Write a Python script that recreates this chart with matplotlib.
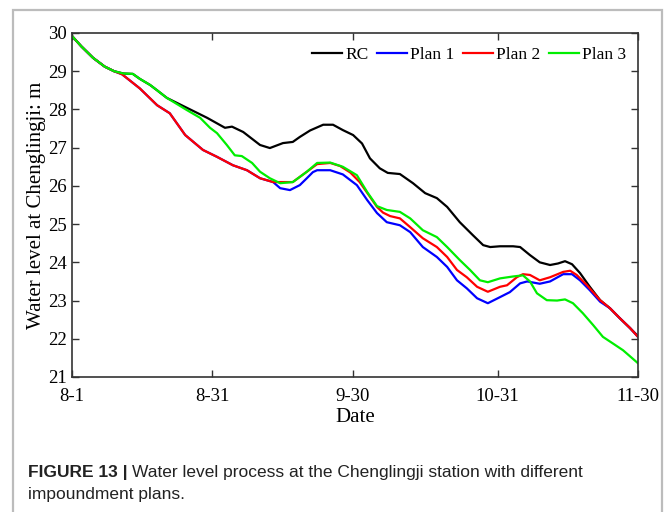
import matplotlib
matplotlib.use("Agg")
import matplotlib.pyplot as plt
from matplotlib.patches import Rectangle

# tick positions (days after 8-1) and labels
tick_days = [0, 30, 60, 91, 121]
tick_labels = ["8-1", "8-31", "9-30", "10-31", "11-30"]

# shared start (all plans equal up to ~day 10)
start_days = [0, 2, 4.5, 7, 9]
start_vals = [29.92, 29.65, 29.35, 29.12, 29.0]

# RC
rc_days = start_days + [11, 13, 14.5, 16.7, 18.2, 20.3, 24.6, 28.9, 32.7, 34.2, 36.6, 40.2, 42.3,
                        45.1, 47.2, 48.7, 50.9, 53.7, 55.8, 57.9, 60.1, 62, 63.7, 65.8, 67.5,
                        70.1, 72.9, 75.5, 78, 80.2, 82.9, 85.7, 87.9, 89.4, 91.5, 94.3, 95.8,
                        97.9, 100, 102.2, 103.9, 105.4, 106.9, 108.6, 110.7, 112.9, 115, 117.1,
                        119.3, 121]
rc_vals = start_vals + [28.94, 28.93, 28.8, 28.64, 28.5, 28.3, 28.04, 27.78, 27.52, 27.55, 27.41,
                        27.07, 26.99, 27.12, 27.15, 27.28, 27.45, 27.6, 27.6, 27.46, 27.33, 27.11,
                        26.72, 26.46, 26.34, 26.31, 26.07, 25.81, 25.68, 25.45, 25.05, 24.71,
                        24.45, 24.4, 24.42, 24.42, 24.4, 24.19, 24.0, 23.93, 23.97, 24.03, 23.95,
                        23.72, 23.36, 23.01, 22.8, 22.54, 22.28, 22.07]

# Plan 1
p1_days = start_days + [10.7, 14.5, 18.2, 20.9, 24.2, 28, 31, 34.4, 37.4, 40.2, 43, 44.5, 46.6,
                        48.7, 50.2, 51.5, 52.4, 55.2, 57.9, 60.9, 63.1, 65.2, 67.3, 70.1, 72.3,
                        75, 78, 80.2, 82.3, 84.4, 86.6, 88.9, 91.5, 93.6, 95.8, 97.3, 100, 102.2,
                        105, 106.9, 108.6, 110.7, 112.9, 115, 117.1, 119.3, 121]
p1_vals = start_vals + [28.92, 28.55, 28.11, 27.9, 27.33, 26.94, 26.76, 26.54, 26.41, 26.2, 26.1,
                        25.94, 25.89, 26.02, 26.2, 26.36, 26.41, 26.41, 26.3, 26.02, 25.63, 25.29,
                        25.05, 24.97, 24.79, 24.4, 24.14, 23.88, 23.53, 23.32, 23.06, 22.93,
                        23.09, 23.22, 23.45, 23.5, 23.44, 23.5, 23.69, 23.69, 23.53, 23.27, 22.97,
                        22.8, 22.54, 22.28, 22.05]

# Plan 2
p2_days = start_days + [10.7, 14.5, 18.2, 20.9, 24.2, 28, 31, 34.4, 37.4, 40.2, 43, 47.2, 50.2,
                        52.4, 55.2, 57.3, 59.5, 61.5, 63.5, 65.2, 66.5, 68, 70.1, 72.3, 75, 78,
                        80.2, 82.3, 84.4, 86.6, 88.9, 91.5, 93, 95.1, 96.4, 97.9, 100, 102.2,
                        105, 106.5, 107.9, 110.1, 112.9, 115, 117.1, 119.3, 121]
p2_vals = start_vals + [28.92, 28.55, 28.11, 27.9, 27.33, 26.94, 26.76, 26.54, 26.41, 26.2, 26.1,
                        26.1, 26.37, 26.57, 26.6, 26.52, 26.35, 26.1, 25.75, 25.45, 25.3, 25.21,
                        25.15, 24.92, 24.63, 24.4, 24.14, 23.8, 23.61, 23.36, 23.23, 23.36,
                        23.4, 23.61, 23.69, 23.67, 23.53, 23.61, 23.75, 23.78, 23.67, 23.4,
                        23.01, 22.8, 22.54, 22.28, 22.05]

# Plan 3
p3_days = start_days + [11, 13, 14.5, 16.7, 18.2, 20.3, 24.6, 27.4, 29.5, 31, 33.1, 34.8, 36.3,
                        38.5, 40.2, 42.3, 44.5, 47.2, 50.2, 52.4, 55.2, 57.9, 60.9, 63.1, 65.2,
                        67.3, 70.1, 72.3, 75, 78, 80.2, 82.9, 85.1, 87.2, 88.9, 91.5, 94.3, 96.4,
                        97.9, 99.4, 101.5, 103.7, 105.4, 107.1, 109.2, 111.4, 113.5, 115.6,
                        117.8, 121]
p3_vals = start_vals + [28.94, 28.93, 28.8, 28.64, 28.5, 28.3, 27.98, 27.78, 27.52, 27.38, 27.07,
                        26.8, 26.78, 26.6, 26.37, 26.2, 26.07, 26.1, 26.37, 26.6, 26.61, 26.5,
                        26.28, 25.84, 25.47, 25.37, 25.32, 25.15, 24.84, 24.66, 24.4, 24.06,
                        23.8, 23.53, 23.48, 23.58, 23.63, 23.66, 23.5, 23.19, 23.01, 23.0, 23.03,
                        22.93, 22.67, 22.36, 22.05, 21.88, 21.7, 21.36]

plt.rcParams['font.family'] = ['Liberation Serif', 'DejaVu Serif']

fig = plt.figure(figsize=(6.71, 5.12), dpi=100)
ax = fig.add_axes([72 / 671, 1 - 377 / 512, 566 / 671, 344 / 512])

lw = 1.6
ax.plot(rc_days, rc_vals, color='black', lw=lw, label='RC')
ax.plot(p1_days, p1_vals, color='#0000ff', lw=lw, label='Plan 1')
ax.plot(p2_days, p2_vals, color='#ff0000', lw=lw, label='Plan 2')
ax.plot(p3_days, p3_vals, color='#00ee00', lw=lw, label='Plan 3')

ax.set_xlim(0, 121)
ax.set_ylim(21, 30)
ax.set_xticks(tick_days)
ax.set_xticklabels(tick_labels)
ax.set_yticks(range(21, 31))
ax.tick_params(direction='in', top=True, right=True, length=5, width=1,
               labelsize=13.5, color='#333333', pad=4)
ax.tick_params(axis='x', pad=8)
for s in ax.spines.values():
    s.set_color('#333333')
    s.set_linewidth(1.2)

ax.set_xlabel('Date', fontsize=15, labelpad=2)
ax.set_ylabel('Water level at Chenglingji: m', fontsize=15, labelpad=1)

ax.legend(loc='upper right', ncol=4, frameon=False, fontsize=12.5,
          handlelength=1.75, handletextpad=0.15, columnspacing=0.5,
          borderaxespad=0.3, bbox_to_anchor=(1.0, 0.995))

# outer frame of the figure panel
frame = Rectangle((13 / 671, -0.05), 649 / 671, 1.05 - 10 / 512, transform=fig.transFigure,
                  fill=False, edgecolor='#bcbcbc', lw=1.6)
fig.patches.append(frame)

# caption
cap_font = ['Liberation Sans', 'DejaVu Sans']
t1 = fig.text(28 / 671, 1 - 472 / 512, 'FIGURE 13 |', fontsize=12.5, fontweight='bold',
              family=cap_font, color='#222222', va='center')
fig.canvas.draw()
bb = t1.get_window_extent()
fig.text((bb.x1 + 4) / 671, 1 - 472 / 512,
         'Water level process at the Chenglingji station with different',
         fontsize=12.5, family=cap_font, color='#222222', va='center')
fig.text(28 / 671, 1 - 495 / 512, 'impoundment plans.', fontsize=12.5, family=cap_font,
         color='#222222', va='center')

fig.savefig('out.png', dpi=100)
